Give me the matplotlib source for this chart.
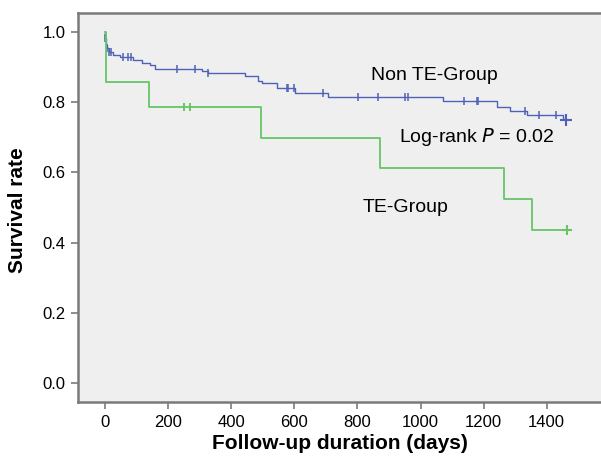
import matplotlib
matplotlib.use("Agg")
import matplotlib.pyplot as plt
import numpy as np

plt.rcParams['font.family'] = ['Liberation Sans', 'DejaVu Sans']

# Non TE-Group (blue) Kaplan-Meier steps
non_te_times = [0, 0, 3, 6, 12, 25, 48, 89, 117, 143, 158, 307, 326, 444, 485, 498,
                545, 602, 707, 1071, 1242, 1284, 1338, 1452, 1461]
non_te_surv = [1.0, 0.983, 0.963, 0.954, 0.943, 0.934, 0.928, 0.920, 0.912, 0.906, 0.895,
               0.889, 0.884, 0.875, 0.861, 0.854, 0.839, 0.827, 0.816, 0.802, 0.787,
               0.775, 0.763, 0.751, 0.751]
non_te_cens_t = [0, 5, 14, 20, 57, 73, 82, 228, 285, 326, 577, 580, 599, 691, 802, 865,
                 951, 960, 1138, 1179, 1182, 1331, 1376, 1429]
non_te_cens_s = [0.983, 0.954, 0.943, 0.943, 0.928, 0.928, 0.928, 0.895, 0.895, 0.884,
                 0.839, 0.839, 0.839, 0.827, 0.816, 0.816, 0.816, 0.816, 0.802, 0.802,
                 0.802, 0.775, 0.763, 0.763]
non_te_end = (1461, 0.748)

# TE-Group (green)
te_times = [0, 4, 139, 494, 872, 1265, 1353, 1475]
te_surv = [1.0, 0.857, 0.785, 0.698, 0.612, 0.524, 0.437, 0.437]
te_cens_t = [250, 270]
te_cens_s = [0.785, 0.785]
te_end = (1464, 0.437)

xticks = [0, 200, 400, 600, 800, 1000, 1200, 1400]
yticks = [0.0, 0.2, 0.4, 0.6, 0.8, 1.0]

blue = '#4f62b8'
green = '#66c666'
gray = '#7a7a7a'

fig = plt.figure(figsize=(6.01, 4.61), dpi=100)
ax = fig.add_axes([78/601, (461-402)/461, (613-78)/601, (402-13)/461])
ax.set_facecolor('#efefef')

ax.step(non_te_times, non_te_surv, where='post', color=blue, lw=1.0)
ax.plot(non_te_cens_t, non_te_cens_s, ls='none', marker='|', ms=6, mew=1.1, color=blue)
ax.plot([non_te_end[0]], [non_te_end[1]], ls='none', marker='+', ms=8, mew=1.5, color=blue)

ax.step(te_times, te_surv, where='post', color=green, lw=1.3)
ax.plot(te_cens_t, te_cens_s, ls='none', marker='|', ms=6, mew=1.4, color=green)
ax.plot([te_end[0]], [te_end[1]], ls='none', marker='+', ms=7, mew=1.5, color=green)

ax.set_xlim(-85.6, 1610)
ax.set_ylim(-0.054, 1.054)
ax.set_xticks(xticks)
ax.set_xticklabels([str(v) for v in xticks])
ax.set_yticks(yticks)
ax.set_yticklabels([f'{v:.1f}' for v in yticks])
ax.tick_params(axis='both', labelsize=12, length=5, width=1.2, color=gray, pad=4)

for s in ['top', 'left', 'bottom', 'right']:
    ax.spines[s].set_color(gray)
    ax.spines[s].set_linewidth(1.8)

ax.text(1043, 0.875, 'Non TE-Group', fontsize=14, ha='center', va='center')
ax.text(1179, 0.700, 'Log-rank $\\mathit{P}$ = 0.02', fontsize=14, ha='center', va='center')
ax.text(954, 0.499, 'TE-Group', fontsize=14, ha='center', va='center')

fig.text(340/601, 1 - 443/461, 'Follow-up duration (days)', fontsize=15, fontweight='bold',
         ha='center', va='center')
fig.text(18/601, 1 - 210/461, 'Survival rate', fontsize=15, fontweight='bold',
         ha='center', va='center', rotation=90)

fig.savefig('out.png', dpi=100)
